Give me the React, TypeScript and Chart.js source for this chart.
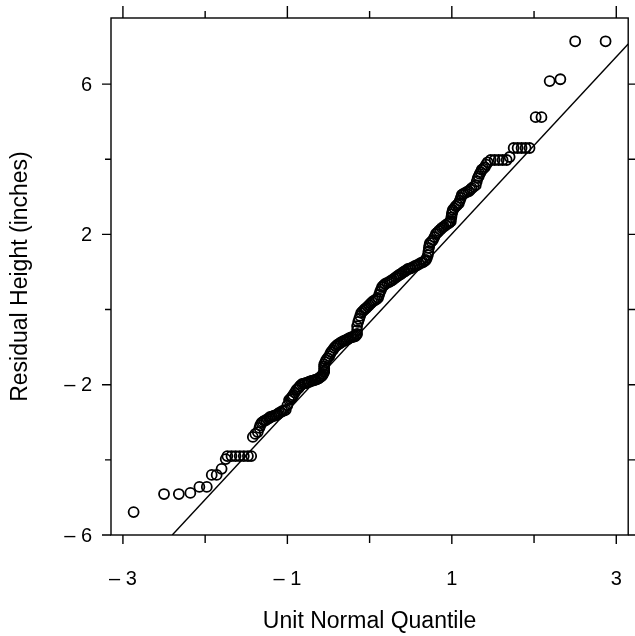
import React, { useEffect, useRef } from "react";
import { Chart, registerables } from "chart.js";

Chart.register(...registerables);

// Unit normal quantiles (x) and residual heights in inches (y)
const quantiles: number[] = [
  -2.87, -2.5, -2.32, -2.18, -2.07, -1.98, -1.92, -1.86, -1.8, -1.75,
  -1.73, -1.68, -1.63, -1.58, -1.53, -1.48, -1.44,
  -1.42, -1.39, -1.36, -1.34, -1.33, -1.315, -1.3, -1.28, -1.26, -1.24, -1.22, -1.21, -1.19, -1.17, -1.15, -1.13, -1.115, -1.1, -1.08, -1.06, -1.04, -1.02,
  -1.0, -0.98, -0.964, -0.95, -0.94, -0.93, -0.91, -0.89, -0.87, -0.855, -0.84, -0.82, -0.8, -0.78, -0.76, -0.745, -0.73, -0.71, -0.69, -0.67, -0.655, -0.636, -0.618, -0.6, -0.588, -0.576, -0.564,
  -0.552, -0.552, -0.552, -0.552, -0.552, -0.539, -0.527, -0.509, -0.491, -0.479, -0.467, -0.448, -0.43, -0.412, -0.394, -0.376, -0.358, -0.34, -0.321, -0.303, -0.285, -0.267, -0.248, -0.23, -0.212, -0.194, -0.176, -0.164, -0.152,
  -0.152, -0.152, -0.139, -0.127, -0.115, -0.103, -0.085, -0.067, -0.055, -0.042, -0.024, -0.006, 0.012, 0.03, 0.048, 0.067, 0.085, 0.103,
  0.115, 0.127, 0.139, 0.152, 0.17, 0.188, 0.212, 0.236, 0.255, 0.273, 0.297, 0.321, 0.339, 0.358, 0.376, 0.394, 0.412, 0.43, 0.448, 0.467, 0.485, 0.503, 0.527, 0.552, 0.576, 0.6, 0.624, 0.648, 0.667, 0.685,
  0.697, 0.709, 0.715, 0.721, 0.727, 0.733, 0.752, 0.77, 0.788, 0.806, 0.824, 0.842, 0.861, 0.879, 0.903, 0.927, 0.945, 0.964, 0.976, 0.988,
  0.994, 1.0, 1.006, 1.012, 1.03, 1.048, 1.067, 1.085, 1.097, 1.109, 1.121, 1.139, 1.158, 1.182, 1.206, 1.224, 1.242, 1.267, 1.291,
  1.303, 1.315, 1.327, 1.339, 1.352, 1.364, 1.382, 1.4, 1.418, 1.436,
  1.473, 1.521, 1.57, 1.618, 1.667, 1.703,
  1.752, 1.8, 1.848, 1.897, 1.945,
  2.02, 2.09, 2.19, 2.32, 2.5, 2.87,
];

const residuals: number[] = [
  -5.39, -4.91, -4.91, -4.88, -4.72, -4.72, -4.4, -4.4, -4.24, -3.98,
  -3.9, -3.9, -3.9, -3.9, -3.9, -3.9, -3.9,
  -3.39, -3.31, -3.26, -3.15, -3.08, -3.02, -2.99, -2.96, -2.94, -2.91, -2.89, -2.86, -2.85, -2.83, -2.82, -2.81, -2.78, -2.75, -2.73, -2.7, -2.69, -2.67,
  -2.55, -2.41, -2.38, -2.35, -2.32, -2.28, -2.21, -2.14, -2.1, -2.06, -2.02, -1.98, -1.97, -1.96, -1.945, -1.93, -1.92, -1.9, -1.89, -1.88, -1.865, -1.85, -1.83, -1.8, -1.78, -1.75, -1.71,
  -1.66, -1.61, -1.56, -1.51, -1.46, -1.4, -1.34, -1.29, -1.24, -1.18, -1.13, -1.08, -1.02, -0.98, -0.94, -0.92, -0.89, -0.865, -0.84, -0.825, -0.81, -0.79, -0.76, -0.745, -0.73, -0.72, -0.71, -0.68, -0.65,
  -0.55, -0.44, -0.33, -0.25, -0.17, -0.09, -0.05, -0.01, 0.02, 0.04, 0.08, 0.12, 0.16, 0.2, 0.23, 0.25, 0.28, 0.31,
  0.39, 0.47, 0.53, 0.6, 0.64, 0.68, 0.71, 0.73, 0.76, 0.78, 0.82, 0.86, 0.89, 0.92, 0.94, 0.97, 1.0, 1.02, 1.05, 1.08, 1.09, 1.1, 1.13, 1.16, 1.18, 1.21, 1.24, 1.26, 1.29, 1.32,
  1.38, 1.45, 1.54, 1.64, 1.71, 1.77, 1.81, 1.85, 1.93, 2.01, 2.05, 2.09, 2.13, 2.17, 2.21, 2.25, 2.28, 2.3, 2.33, 2.35,
  2.45, 2.54, 2.6, 2.65, 2.7, 2.75, 2.79, 2.83, 2.9, 2.97, 3.05, 3.08, 3.1, 3.13, 3.15, 3.19, 3.23, 3.27, 3.31,
  3.41, 3.5, 3.55, 3.61, 3.66, 3.72, 3.75, 3.79, 3.86, 3.92,
  3.98, 3.98, 3.98, 3.98, 3.98, 4.06,
  4.3, 4.3, 4.3, 4.3, 4.3,
  5.12, 5.12, 6.08, 6.13, 7.14, 7.14,
];

// Reference line endpoints
const fitX: number[] = [-2.4, 3.145];
const fitY: number[] = [-6.0, 7.07];

const xTickValues: number[] = [-3, -2, -1, 0, 1, 2, 3];
const xTickLabels: string[] = ["\u2013 3", "", "\u2013 1", "", "1", "", "3"];
const yTickValues: number[] = [-6, -4, -2, 0, 2, 4, 6];
const yTickLabels: string[] = ["\u2013 6", "", "\u2013 2", "", "2", "", "6"];

const xTitle = "Unit Normal Quantile";
const yTitle = "Residual Height (inches)";

const FONT = '"Liberation Sans", Arial, Helvetica, sans-serif';

const framePlugin = {
  id: "frame",
  afterDraw(chart: any) {
    const { ctx, chartArea: a, scales } = chart;
    const xs = scales.x;
    const ys = scales.y;
    ctx.save();
    ctx.strokeStyle = "#000";
    ctx.lineWidth = 1.4;
    ctx.strokeRect(a.left, a.top, a.right - a.left, a.bottom - a.top);
    ctx.beginPath();
    xTickValues.forEach((v, i) => {
      const px = xs.getPixelForValue(v);
      const major = xTickLabels[i] !== "";
      ctx.moveTo(px, a.bottom);
      ctx.lineTo(px, a.bottom + (major ? 9 : 8));
      ctx.moveTo(px, a.top);
      ctx.lineTo(px, a.top - (major ? 12 : 7));
    });
    yTickValues.forEach((v, i) => {
      const py = ys.getPixelForValue(v);
      const major = yTickLabels[i] !== "";
      ctx.moveTo(a.left, py);
      ctx.lineTo(a.left - (major ? 9 : 6), py);
      ctx.moveTo(a.right, py);
      ctx.lineTo(a.right + 7, py);
    });
    ctx.stroke();

    ctx.fillStyle = "#000";
    ctx.font = `20px ${FONT}`;
    ctx.textAlign = "center";
    ctx.textBaseline = "alphabetic";
    xTickValues.forEach((v, i) => {
      if (xTickLabels[i]) ctx.fillText(xTickLabels[i], xs.getPixelForValue(v), a.bottom + 50);
    });
    ctx.textAlign = "right";
    ctx.textBaseline = "middle";
    yTickValues.forEach((v, i) => {
      if (yTickLabels[i]) ctx.fillText(yTickLabels[i], a.left - 19, ys.getPixelForValue(v) + 1);
    });

    ctx.font = `23px ${FONT}`;
    ctx.textAlign = "center";
    ctx.textBaseline = "alphabetic";
    ctx.fillText(xTitle, (a.left + a.right) / 2, 628);
    ctx.translate(27, (a.top + a.bottom) / 2);
    ctx.rotate(-Math.PI / 2);
    ctx.fillText(yTitle, 0, 0);
    ctx.restore();
  },
};

export default function App() {
  const canvasRef = useRef<HTMLCanvasElement | null>(null);

  useEffect(() => {
    const canvas = canvasRef.current;
    if (!canvas) return;
    const points = quantiles.map((q, i) => ({ x: q, y: residuals[i] }));
    const linePts = fitX.map((x, i) => ({ x, y: fitY[i] }));
    const chart = new Chart(canvas, {
      type: "scatter",
      data: {
        datasets: [
          {
            type: "line",
            data: linePts,
            borderColor: "#000",
            borderWidth: 1.4,
            pointRadius: 0,
            fill: false,
          } as any,
          {
            data: points,
            pointRadius: 5,
            pointHoverRadius: 5,
            pointBorderWidth: 1.8,
            borderColor: "#000",
            backgroundColor: "rgba(0,0,0,0)",
          },
        ],
      },
      options: {
        animation: false,
        responsive: false,
        events: [],
        layout: { padding: { left: 111, right: 5, top: 18, bottom: 101 } },
        scales: {
          x: { type: "linear", min: -3.145, max: 3.145, display: false },
          y: { type: "linear", min: -6, max: 7.76, display: false },
        },
        plugins: {
          legend: { display: false },
          tooltip: { enabled: false },
        },
      },
      plugins: [framePlugin],
    });
    return () => chart.destroy();
  }, []);

  return (
    <div style={{ position: "absolute", left: 0, top: 0, width: 635, height: 636, background: "#fff" }}>
      <canvas ref={canvasRef} width={635} height={636} />
    </div>
  );
}
